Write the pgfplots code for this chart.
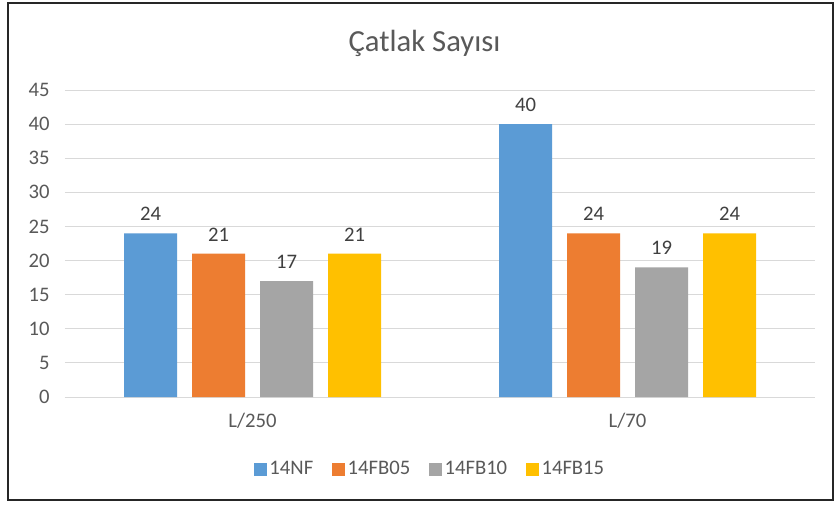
\documentclass[border=0pt]{standalone}
\usepackage{pgfplots}
\pgfplotsset{compat=1.18}
\usepackage{fontspec}
\setmainfont{Carlito}
\definecolor{c1}{HTML}{5B9BD5}
\definecolor{c2}{HTML}{ED7D31}
\definecolor{c3}{HTML}{A5A5A5}
\definecolor{c4}{HTML}{FFC000}
\definecolor{txt}{HTML}{595959}
\definecolor{lbl}{HTML}{404040}
\definecolor{grd}{HTML}{D9D9D9}
\begin{document}
\begin{tikzpicture}
\path[use as bounding box] (-48.75pt,-80.25pt) rectangle (576.75pt,297.75pt);
\fill[white] (-48.75pt,-80.25pt) rectangle (576.75pt,297.75pt);
\begin{axis}[
  scale only axis,
  width=562.5pt, height=230.25pt,
  ybar=11.25pt, bar width=39.75pt,
  xmin=-0.5, xmax=1.5, ymin=0, ymax=45,
  xtick={0,1}, xticklabels={L/250,L/70},
  ytick={0,5,...,45},
  axis x line*=bottom, axis y line*=left,
  x axis line style={draw=grd, line width=0.75pt, -},
  y axis line style={draw=none},
  ymajorgrids, grid style={draw=grd, line width=0.75pt},
  major tick length=0pt,
  tick label style={font=\fontsize{15.5}{18}\selectfont, text=txt},
  /pgf/number format/assume math mode=true,
  xticklabel style={yshift=-8.5pt},
  yticklabel style={xshift=-8pt},
  nodes near coords,
  nodes near coords style={font=\fontsize{15.5}{18}\selectfont, text=lbl, yshift=6pt},
  legend columns=4,
  legend style={draw=none, fill=none, at={(274pt,-54pt)}, anchor=center,
    font=\fontsize{15.5}{18}\selectfont, text=txt,
    /tikz/every even column/.append style={column sep=12pt}},
  legend image code/.code={\fill (0pt,-4.875pt) rectangle (9.75pt,4.875pt);},
  clip=false,
]
\addplot[fill=c1, draw=none] coordinates {(0,24) (1,40)};
\addplot[fill=c2, draw=none] coordinates {(0,21) (1,24)};
\addplot[fill=c3, draw=none] coordinates {(0,17) (1,19)};
\addplot[fill=c4, draw=none] coordinates {(0,21) (1,24)};
\legend{14NF,14FB05,14FB10,14FB15}
\end{axis}
\node[font=\fontsize{23}{27}\selectfont, text=txt, anchor=base] at (269.6pt,258.75pt) {Çatlak Sayısı};
\draw[line width=1.3pt, draw=black!85] (-42.75pt,-77.25pt) rectangle (576pt,295.5pt);
\end{tikzpicture}
\end{document}
